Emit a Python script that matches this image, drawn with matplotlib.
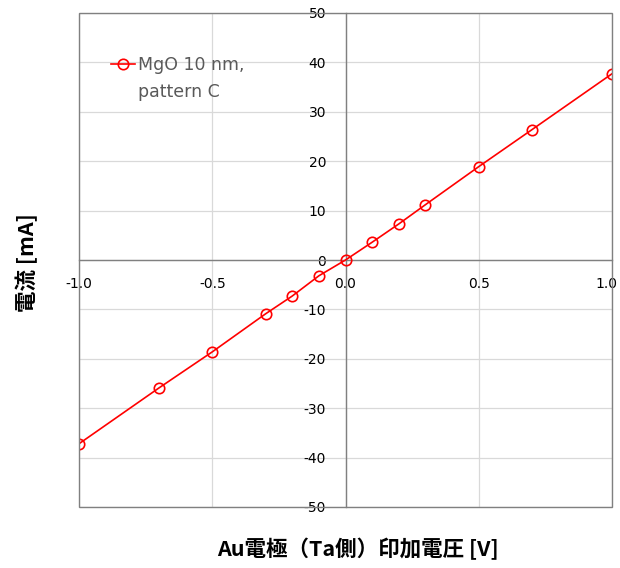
import matplotlib.pyplot as plt
import matplotlib.transforms as mtransforms
from matplotlib.lines import Line2D
from matplotlib.patches import Rectangle

voltage = [-1.0, -0.7, -0.5, -0.3, -0.2, -0.1, 0.0, 0.1, 0.2, 0.3, 0.5, 0.7, 1.0]
current = [-37.2, -25.9, -18.6, -10.9, -7.3, -3.2, 0.0, 3.6, 7.3, 11.2, 18.9, 26.4, 37.7]

x_ticks = [-1.0, -0.5, 0.0, 0.5, 1.0]
y_ticks = [-50, -40, -30, -20, -10, 0, 10, 20, 30, 40, 50]

plt.rcParams['font.family'] = ['DejaVu Sans', 'Noto Sans CJK JP']
plt.rcParams['axes.unicode_minus'] = False

fig = plt.figure(figsize=(6.2, 5.68), dpi=100)
ax = fig.add_axes([79 / 620, 61 / 568, 533 / 620, 494 / 568])

ax.plot(voltage, current, color='#ff0000', linewidth=1.2, marker='o',
        markersize=7.5, markerfacecolor='none', markeredgecolor='#ff0000',
        markeredgewidth=1.2, zorder=3)

ax.set_xlim(-1.0, 1.0)
ax.set_ylim(-50, 50)
ax.set_xticks(x_ticks)
ax.set_yticks(y_ticks)
ax.set_xticklabels([f'{v:.1f}' for v in x_ticks])
ax.grid(True, color='#d9d9d9', linewidth=0.9)
ax.set_axisbelow(True)

# axis lines through zero, box drawn separately
for side in ['left', 'bottom']:
    ax.spines[side].set_position('zero')
    ax.spines[side].set_color('#808080')
    ax.spines[side].set_linewidth(1.0)
for side in ['top', 'right']:
    ax.spines[side].set_visible(False)
ax.add_patch(Rectangle((0, 0), 1, 1, transform=ax.transAxes, fill=False,
                       edgecolor='#808080', linewidth=1.0, clip_on=False, zorder=4))

ax.tick_params(axis='both', length=0, labelsize=10, colors='black')
ax.tick_params(axis='x', pad=12)
ax.tick_params(axis='y', pad=14)

# keep the last x label inside the figure
last = ax.get_xticklabels()[-1]
last.set_transform(last.get_transform() +
                   mtransforms.ScaledTranslation(-6 / 100, 0, fig.dpi_scale_trans))

handles = [Line2D([], [], color='#ff0000', linewidth=1.2, marker='o', markersize=7.5,
                  markerfacecolor='none', markeredgewidth=1.2),
           Line2D([], [], color='none')]
leg = ax.legend(handles, ['MgO 10 nm,', 'pattern C'], loc='upper left',
                bbox_to_anchor=(0.03, 0.945), frameon=False, fontsize=12.5,
                handlelength=1.4, handletextpad=0.2, labelspacing=0.55,
                labelcolor='#595959')

fig.text(358 / 620, 1 - 549 / 568, 'Au電極（Ta側）印加電圧 [V]', ha='center', va='center',
         fontsize=15.5, fontweight='bold', family=['Noto Sans CJK JP', 'DejaVu Sans'])
fig.text(27 / 620, 1 - 263 / 568, '電流 [mA]', ha='center', va='center', rotation=90,
         fontsize=15.5, fontweight='bold', family=['Noto Sans CJK JP', 'DejaVu Sans'])

fig.savefig('out.png', dpi=100, facecolor='white')
